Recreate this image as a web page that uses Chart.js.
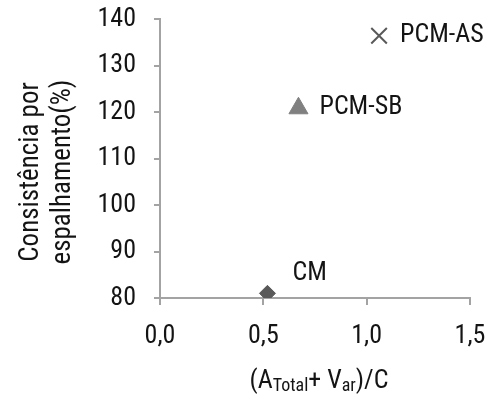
<!DOCTYPE html>
<html>
<head>
<meta charset="utf-8">
<script src="https://cdn.jsdelivr.net/npm/chart.js@4/dist/chart.umd.min.js"></script>
<style>
  html, body { margin: 0; padding: 0; background: #fff; }
  #wrap { width: 486px; height: 397px; }
</style>
</head>
<body>
<div id="wrap"><canvas id="chart" width="486" height="397"></canvas></div>
<script>
// valores
const seriesNames = ['CM', 'PCM-SB', 'PCM-AS'];
const xValues = [0.52, 0.67, 1.06];
const yValues = [81, 120.8, 136.4];
const xTicks = [0, 0.5, 1.0, 1.5];
const yTicks = [80, 90, 100, 110, 120, 130, 140];

const FONT = "'Roboto Condensed', 'DejaVu Sans Condensed', 'Liberation Sans', sans-serif";
const FS = 26;
const textColor = '#141414';
const axisColor = '#a3a3a3';

// deslocamento dos rótulos em relação ao ponto
const labelOffsets = [[25, -20], [21, -1], [21, 0]];

const labelsPlugin = {
    id: 'labelsPlugin',
    afterDraw(chart) {
        const ctx = chart.ctx;
        const xs = chart.scales.x;
        const ys = chart.scales.y;
        ctx.save();
        ctx.fillStyle = textColor;
        ctx.font = FS + 'px ' + FONT;
        ctx.textBaseline = 'middle';
        ctx.textAlign = 'left';
        seriesNames.forEach((name, i) => {
            const px = xs.getPixelForValue(xValues[i]);
            const py = ys.getPixelForValue(yValues[i]);
            ctx.fillText(name, px + labelOffsets[i][0], py + labelOffsets[i][1]);
        });

        // título do eixo y (duas linhas, rodado)
        ctx.save();
        ctx.font = '27px ' + FONT;
        ctx.translate(0, 172);
        ctx.rotate(-Math.PI / 2);
        ctx.textAlign = 'center';
        ctx.textBaseline = 'alphabetic';
        ctx.fillText('Consistência por', 0, 38);
        ctx.fillText('espalhamento(%)', 0, 70);
        ctx.restore();

        // título do eixo x com índices
        const parts = [
            ['(A', FS, 0], ['Total', 18, 3], ['+ V', FS, 0], ['ar', 18, 3], [')/C', FS, 0]
        ];
        let total = 0;
        parts.forEach(p => { ctx.font = p[1] + 'px ' + FONT; total += ctx.measureText(p[0]).width; });
        let cx = 319 - total / 2;
        ctx.textBaseline = 'alphabetic';
        parts.forEach(p => {
            ctx.font = p[1] + 'px ' + FONT;
            ctx.fillText(p[0], cx, 388 + p[2]);
            cx += ctx.measureText(p[0]).width;
        });
        ctx.restore();
    }
};

const points = xValues.map((x, i) => ({ x: x, y: yValues[i] }));

new Chart(document.getElementById('chart').getContext('2d'), {
    type: 'scatter',
    data: {
        labels: seriesNames,
        datasets: [{
            label: 'dados',
            data: points,
            pointStyle: ['rectRot', 'triangle', 'crossRot'],
            pointRadius: [8, 11, 11],
            backgroundColor: ['#595959', '#808080', '#595959'],
            borderColor: ['#595959', '#808080', '#595959'],
            borderWidth: [1, 1, 2],
            showLine: false
        }]
    },
    plugins: [labelsPlugin],
    options: {
        responsive: false,
        animation: false,
        events: [],
        layout: { padding: { top: 19, right: 16, left: 0, bottom: 0 } },
        plugins: {
            legend: { display: false },
            tooltip: { enabled: false }
        },
        scales: {
            x: {
                type: 'linear',
                min: 0,
                max: 1.5,
                afterBuildTicks: (s) => { s.ticks = xTicks.map(v => ({ value: v })); },
                afterFit: (s) => { s.height = 99; s.paddingLeft = 0; s.paddingRight = 0; },
                border: { color: axisColor, width: 2 },
                grid: { drawOnChartArea: false, color: axisColor, lineWidth: 2, tickLength: 7 },
                ticks: {
                    color: textColor,
                    font: { family: FONT, size: FS },
                    padding: 16,
                    callback: (v) => v.toFixed(1).replace('.', ',')
                }
            },
            y: {
                type: 'linear',
                min: 80,
                max: 140,
                afterBuildTicks: (s) => { s.ticks = yTicks.map(v => ({ value: v })); },
                afterFit: (s) => { s.width = 160; s.paddingTop = 0; s.paddingBottom = 0; },
                border: { color: axisColor, width: 2 },
                grid: { drawOnChartArea: false, color: axisColor, lineWidth: 2, tickLength: 6 },
                ticks: {
                    color: textColor,
                    font: { family: FONT, size: FS },
                    padding: 18
                }
            }
        }
    }
});
</script>
</body>
</html>
